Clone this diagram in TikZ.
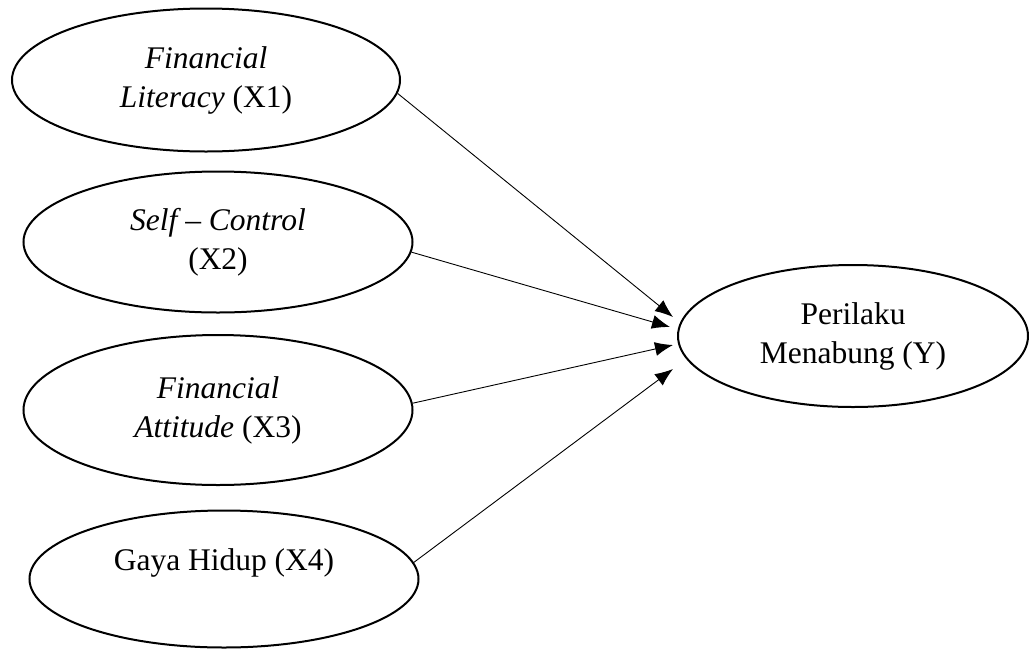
\documentclass[tikz,border=0pt]{standalone}
\usepackage{fontspec}
\setmainfont{Liberation Serif}
\usetikzlibrary{shapes.geometric,arrows.meta}

\begin{document}
\begin{tikzpicture}[x=1pt, y=-1pt,
  konstruk/.style={draw, ellipse, line width=2pt, inner sep=0pt, align=center,
    font=\fontsize{31.5}{39}\selectfont},
  panah/.style={-{Latex[length=18pt,width=14pt]}, line width=0.9pt}]
\useasboundingbox (0, 0) rectangle (1029, 649);
% variabel bebas
\node [konstruk, minimum width=388, minimum height=143] (x1) at (206, 80)
  {\textit{Financial}\\\textit{Literacy} (X1)};
\node [konstruk, minimum width=389, minimum height=141] (x2) at (218, 242)
  {\textit{Self -- Control}\\(X2)};
\node [konstruk, minimum width=389, minimum height=150] (x3) at (218, 410)
  {\textit{Financial}\\\textit{Attitude} (X3)};
\node [konstruk, minimum width=389, minimum height=137] (x4) at (224, 579)
  {Gaya Hidup (X4)\\\mbox{}};
% variabel terikat
\node [konstruk, minimum width=350, minimum height=142] (y) at (853, 336)
  {Perilaku\\Menabung (Y)};
\coordinate (t1) at (673, 317);
\coordinate (t2) at (670, 327);
\coordinate (t3) at (673, 345);
\coordinate (t4) at (673, 369);
\draw [panah] (x1.-4) -- (t1);
\draw [panah] (x2.-3) -- (t2);
\draw [panah] (x3.2) -- (t3);
\draw [panah] (x4.5) -- (t4);
\end{tikzpicture}
\end{document}
